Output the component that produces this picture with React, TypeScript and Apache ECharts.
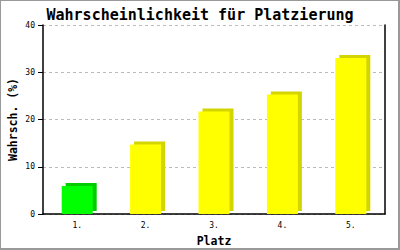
import React, { useEffect, useRef } from "react";
import * as echarts from "echarts";

const categories = ["1.", "2.", "3.", "4.", "5."];
const values = [5.9, 14.7, 21.7, 25.3, 33.0];
const faceColors = ["#00ff00", "#ffff00", "#ffff00", "#ffff00", "#ffff00"];
const sideColors = ["#00cc00", "#d4d400", "#d4d400", "#d4d400", "#d4d400"];
const yTicks = [0, 10, 20, 30, 40];

export default function App() {
  const ref = useRef<HTMLDivElement>(null);
  useEffect(() => {
    const chart = echarts.init(ref.current!, null, { renderer: "svg" });
    const mono = "DejaVu Sans Mono";
    chart.setOption({
      animation: false,
      backgroundColor: "#ffffff",
      title: {
        text: "Wahrscheinlichkeit für Platzierung",
        left: "center",
        top: 2,
        textStyle: { fontFamily: mono, fontWeight: "bold", fontSize: 15, color: "#000" },
      },
      grid: { left: 43, right: 15, top: 25, bottom: 36, containLabel: false, outerBoundsMode: "none" },
      xAxis: {
        type: "category",
        data: categories,
        name: "Platz",
        nameLocation: "middle",
        nameGap: 21,
        nameMoveOverlap: false,
        nameTextStyle: { fontFamily: mono, fontWeight: "bold", fontSize: 11.5, color: "#000" },
        axisLine: { lineStyle: { color: "#000", width: 1.5 } },
        axisTick: { show: false },
        axisLabel: { fontFamily: mono, fontSize: 8, color: "#000", margin: 7 },
      },
      yAxis: [
        {
          type: "value",
          min: 0,
          max: yTicks[yTicks.length - 1],
          interval: 10,
          name: "Wahrsch. (%)",
          nameLocation: "middle",
          nameGap: 24,
          nameMoveOverlap: false,
          nameTextStyle: { fontFamily: mono, fontWeight: "bold", fontSize: 11.5, color: "#000" },
          axisLine: { show: true, lineStyle: { color: "#000", width: 1.5 } },
          axisTick: { show: true, length: 5, lineStyle: { color: "#000" } },
          axisLabel: { fontFamily: mono, fontSize: 8, color: "#000", margin: 8 },
          splitLine: { show: true, lineStyle: { color: "#bbbbbb", type: [3, 3], width: 1 } },
        },
        {
          type: "value",
          min: 0,
          max: 40,
          interval: 10,
          position: "right",
          axisLine: { show: true, lineStyle: { color: "#000", width: 1.5 } },
          axisTick: { show: false },
          axisLabel: { show: false },
          splitLine: { show: false },
        },
      ],
      series: [
        {
          type: "bar",
          barWidth: 31,
          data: values.map((v, i) => ({
            value: v,
            itemStyle: {
              color: faceColors[i],
              shadowColor: sideColors[i],
              shadowBlur: 0,
              shadowOffsetX: 4,
              shadowOffsetY: -3,
            },
          })),
        },
      ],
      graphic: [
        {
          type: "rect",
          shape: { x: 0, y: 0, width: 399, height: 249 },
          style: { fill: "none", stroke: "#999999", lineWidth: 2 },
          silent: true,
        },
      ],
    });
    return () => chart.dispose();
  }, []);
  return <div ref={ref} style={{ position: "fixed", left: 0, top: 0, width: 400, height: 250 }} />;
}
